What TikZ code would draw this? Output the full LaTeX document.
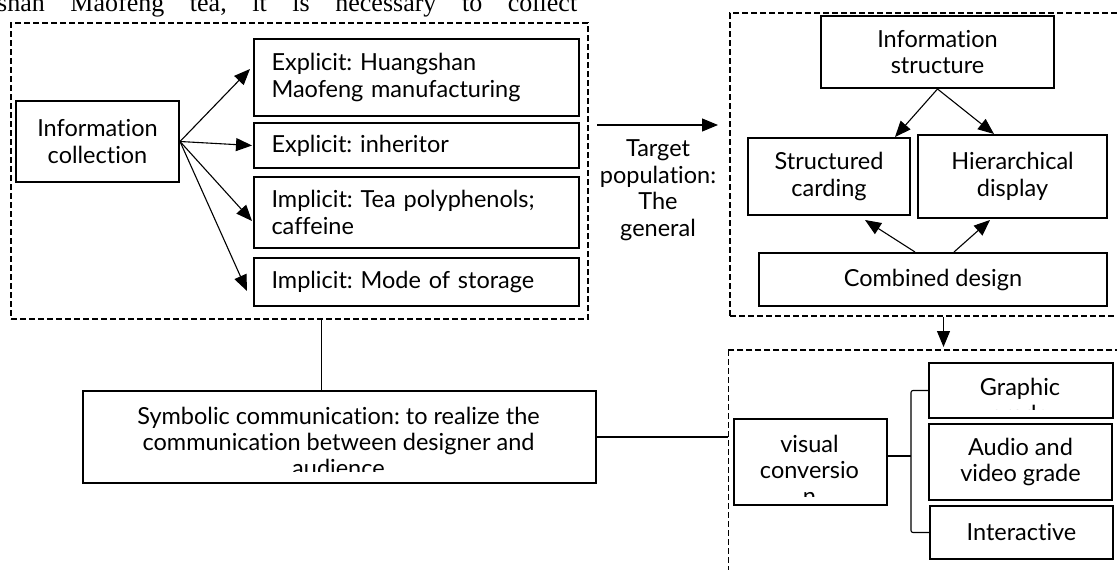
\documentclass[tikz,border=0pt]{standalone}
\usepackage{fontspec}
\setmainfont{Lato}[Ligatures=NoCommon]
\newfontfamily\paperfont{Liberation Serif}
\usetikzlibrary{arrows.meta,calc}
\frenchspacing
\begin{document}
\begin{tikzpicture}[x=1pt,y=-1pt,
  every node/.style={inner sep=0pt},
  txt/.style={font=\fontsize{23.5}{26.5}\selectfont, align=center},
  box/.style={draw, line width=2pt, anchor=north west, txt},
  lbox/.style={box, text width=290pt, align=left},
  grp/.style={draw, line width=2pt, dash pattern=on 6pt off 3pt, anchor=north west},
  arr/.style={line width=1.1pt, -{Triangle[length=16pt,width=13pt]}},
  link/.style={line width=1.1pt}]
\clip (0,0) rectangle (1117,570);
\fill[white] (0,0) rectangle (1117,570);

% cut-off line of the paper text
\node[anchor=base west, font=\paperfont\fontsize{26}{30}\selectfont] (para) at (-3,12)
  {\makebox[580pt][s]{shan Maofeng tea, it is necessary to collect}};

% dashed groups
\node[grp, minimum width=577pt, minimum height=296pt] (g1) at (10,22) {};
\node[grp, minimum width=420pt, minimum height=303pt] (g2) at (729,12) {};
\node[anchor=north west, minimum width=420pt, minimum height=260pt] (g3) at (728,350) {};
\draw[line width=2pt, dash pattern=on 6pt off 3pt] (g3.north east) -- (g3.north west);
\draw[line width=1pt, dash pattern=on 6pt off 3pt] (g3.north west) -- (g3.south west);

% left group
\node[box, minimum width=163pt, minimum height=81pt] (ic) at (15,100) {Information\\collection};
\node[lbox, minimum width=325pt, minimum height=77pt] (e1) at (253,38) {Explicit: Huangshan\\Maofeng manufacturing};
\node[lbox, minimum width=325pt, minimum height=45pt] (e2) at (253,122) {Explicit: inheritor};
\node[lbox, minimum width=325pt, minimum height=71pt] (i1) at (253,176) {Implicit: Tea polyphenols;\\caffeine};
\node[lbox, minimum width=325pt, minimum height=48pt] (i2) at (253,257) {Implicit: Mode of storage};
\draw[arr] (ic.east) -- ([xshift=-3pt,yshift=8.5pt]e1.west);
\draw[arr] (ic.east) -- ([xshift=-1pt]e2.west);
\draw[arr] (ic.east) -- ([xshift=-1pt,yshift=-8.5pt]i1.west);
\draw[arr] (ic.east) -- ([xshift=-6pt,yshift=-9pt]i2.west);

% target population
\draw[arr] ([xshift=8pt,yshift=46pt]g1.east) -- ([xshift=-11pt,yshift=39.5pt]g2.west);
\node[txt] (tp) at (658,190) {Target\\population:\\The\\general};

% information structure group
\node[box, minimum width=233pt, minimum height=72pt] (is) at (820,15) {Information\\structure};
\node[box, minimum width=162pt, minimum height=77pt] (sc) at (747,137) {Structured\\carding};
\node[box, minimum width=189pt, minimum height=83pt] (hd) at (917,134) {Hierarchical\\display};
\node[box, minimum width=348pt, minimum height=53pt] (cd) at (758,252) {Combined design};
\draw[arr] (is.south) -- ([xshift=-16pt]sc.north east);
\draw[arr] (is.south) -- ([xshift=-18.5pt]hd.north);
\draw[arr] ([xshift=-18pt]cd.north) -- ([xshift=36pt,yshift=-4pt]sc.south);
\draw[arr] ([xshift=21pt]cd.north) -- ([xshift=-22.5pt,yshift=-1pt]hd.south);
\draw[arr] ([xshift=3.5pt]g2.south) -- ([xshift=3.5pt,yshift=3pt]g2.south |- g3.north);

% symbolic communication
\node[box, minimum width=513pt, minimum height=92pt] (sym) at (82,390) {};
\draw[link] ([xshift=22pt]g1.south) -- ([xshift=22pt]g1.south |- sym.north);
\draw[link] (sym.east) -- (sym.east -| g3.west);
\begin{scope}
\clip (82,390) rectangle (595,471);
\node[txt, anchor=base] (sym1) at (338.5,424) {Symbolic communication: to realize the};
\node[txt, anchor=base] (sym2) at (338.5,450) {communication between designer and};
\node[txt, anchor=base] (sym3) at (338.5,476) {audience};
\end{scope}

% visual conversion group
\node[box, minimum width=153pt, minimum height=86pt] (vc) at (733,418) {};
\begin{scope}
\clip (733,418) rectangle (886,496);
\node[txt, anchor=base] (vc1) at (809.5,452) {visual};
\node[txt, anchor=base] (vc2) at (809.5,478) {conversio};
\node[txt, anchor=base] (vc3) at (809.5,504) {n};
\end{scope}
\node[box, minimum width=184pt, minimum height=55pt] (gr) at (928,362) {};
\begin{scope}
\clip (928,362) rectangle (1112,409);
\node[txt, anchor=base] (gr1) at (1020,395) {Graphic};
\node[txt, anchor=base] (gr2) at (1020,422) {grade};
\end{scope}
\node[box, minimum width=183pt, minimum height=76pt] (av) at (928,423) {Audio and\\video grade};
\node[box, minimum width=183pt, minimum height=53pt] (ia) at (929,505) {Interactive};
\coordinate (bk) at ([xshift=-17pt]gr.west);
\draw[link, rounded corners=2pt] (gr.west) -- (bk) |- (ia.west);
\draw[link] ([yshift=6pt]vc.east) -- ([yshift=6pt]vc.east -| bk);
\end{tikzpicture}
\end{document}
